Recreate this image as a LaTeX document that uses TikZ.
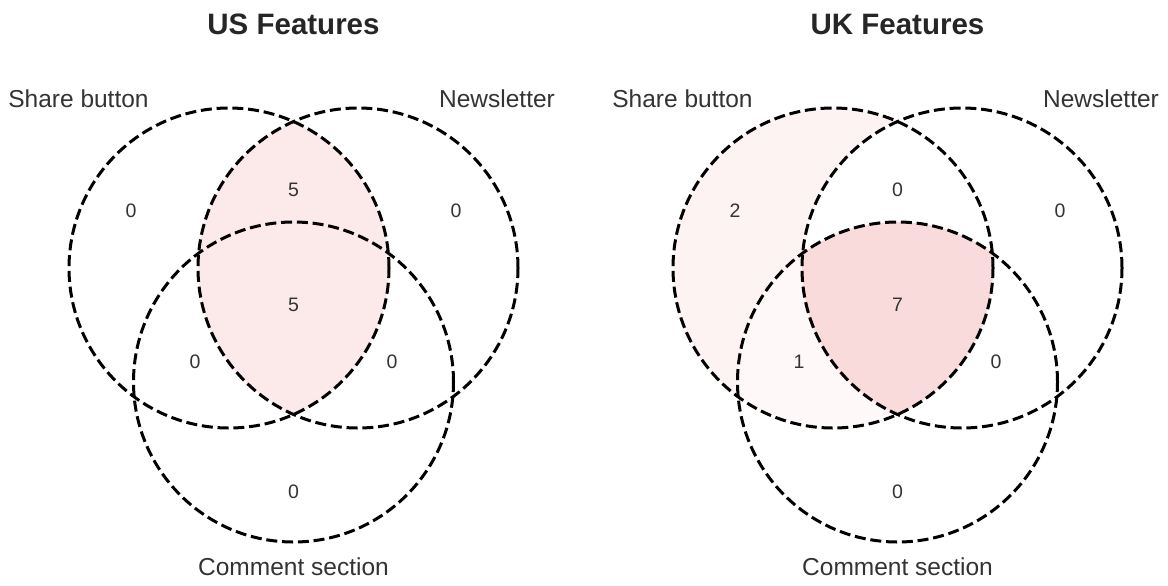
\documentclass[tikz,border=0pt]{standalone}
\usepackage{fontspec}
\setmainfont{Liberation Sans}
\definecolor{txtgray}{RGB}{51,51,51}
\definecolor{titlegray}{RGB}{38,38,38}
\definecolor{fillfive}{RGB}{252,234,234}
\definecolor{fillseven}{RGB}{249,219,220}
\definecolor{filltwo}{RGB}{254,243,243}
\definecolor{fillone}{RGB}{255,248,248}
\tikzset{
  vset/.style={draw=black, dash pattern=on 5.5pt off 2.4pt, line width=1.5pt},
  setlabel/.style={font=\fontsize{12.25}{14}\selectfont, text=txtgray, anchor=base, inner sep=0pt},
  regioncount/.style={font=\fontsize{9.75}{12}\selectfont, text=txtgray, inner sep=0pt},
  plottitle/.style={font=\bfseries\fontsize{14.75}{18}\selectfont, text=titlegray, anchor=base, inner sep=0pt}
}
\begin{document}
\begin{tikzpicture}[x=0.5pt,y=-0.5pt]
\useasboundingbox[fill=white] (0,0) rectangle (1168,585);
% centres
\coordinate (usS) at (229,268);
\coordinate (usN) at (358,268);
\coordinate (usC) at (293.5,382);
\coordinate (ukS) at (833,268);
\coordinate (ukN) at (962,268);
\coordinate (ukC) at (897.5,382);
% US fills
\begin{scope}
  \clip (usS) circle[radius=80pt];
  \fill[fillfive] (usN) circle[radius=80pt];
\end{scope}
% UK fills
\fill[filltwo] (ukS) circle[radius=80pt];
\begin{scope}
  \clip (ukS) circle[radius=80pt];
  \fill[fillone] (ukC) circle[radius=80pt];
  \fill[white] (ukN) circle[radius=80pt];
  \clip (ukN) circle[radius=80pt];
  \fill[fillseven] (ukC) circle[radius=80pt];
\end{scope}
% circles
\draw[vset] (usS) circle[radius=80pt];
\draw[vset] (usN) circle[radius=80pt];
\draw[vset] (usC) circle[radius=80pt];
\draw[vset] (ukS) circle[radius=80pt];
\draw[vset] (ukN) circle[radius=80pt];
\draw[vset] (ukC) circle[radius=80pt];
% titles
\node[plottitle] (ustitle) at (293.5,34.5) {US Features};
\node[plottitle] (uktitle) at (897.5,34.5) {UK Features};
% set labels
\node[setlabel] (usSl) at (78.5,107) {Share button};
\node[setlabel] (usNl) at (497,107) {Newsletter};
\node[setlabel] (usCl) at (293.5,575) {Comment section};
\node[setlabel] (ukSl) at (682.5,107) {Share button};
\node[setlabel] (ukNl) at (1101,107) {Newsletter};
\node[setlabel] (ukCl) at (897.5,575) {Comment section};
% US counts
\node[regioncount] (us100) at (131,211) {0};
\node[regioncount] (us110) at (293.5,190) {5};
\node[regioncount] (us010) at (456,211) {0};
\node[regioncount] (us111) at (293.5,305) {5};
\node[regioncount] (us101) at (195,362) {0};
\node[regioncount] (us011) at (392,362) {0};
\node[regioncount] (us001) at (293.5,492) {0};
% UK counts
\node[regioncount] (uk100) at (735,211) {2};
\node[regioncount] (uk110) at (897.5,190) {0};
\node[regioncount] (uk010) at (1060,211) {0};
\node[regioncount] (uk111) at (897.5,305) {7};
\node[regioncount] (uk101) at (799,362) {1};
\node[regioncount] (uk011) at (996,362) {0};
\node[regioncount] (uk001) at (897.5,492) {0};
\end{tikzpicture}
\end{document}
